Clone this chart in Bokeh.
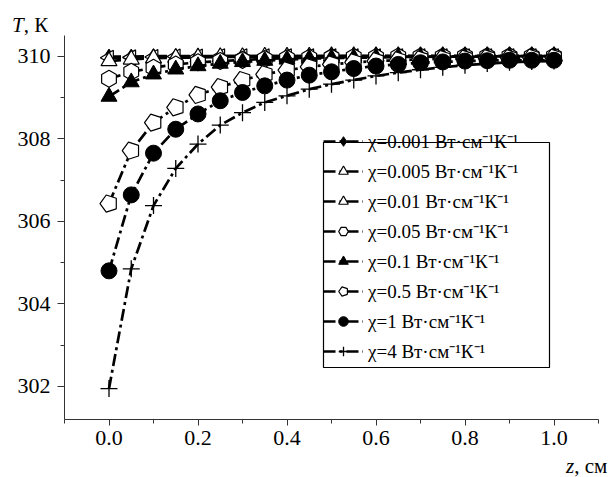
import math
from bokeh.plotting import figure
from bokeh.layouts import column
from bokeh.models import Range1d, FixedTicker, NumeralTickFormatter, Div, BoxAnnotation
from bokeh.core.properties import value
from bokeh.embed import file_html
from bokeh.resources import INLINE

# ---- data ----
z = [0.0, 0.05, 0.1, 0.15, 0.2, 0.25, 0.3, 0.35, 0.4, 0.45, 0.5,
     0.55, 0.6, 0.65, 0.7, 0.75, 0.8, 0.85, 0.9, 0.95, 1.0]

t_0001 = [309.99, 309.99, 310.0, 310.0, 310.0, 310.0, 310.0, 310.0, 310.0, 310.0, 310.0,
          310.0, 310.0, 310.0, 310.0, 310.0, 310.0, 310.0, 310.0, 310.0, 310.0]
t_0005 = [309.96, 309.97, 309.98, 309.99, 309.99, 310.0, 310.0, 310.0, 310.0, 310.0, 310.0,
          310.0, 310.0, 310.0, 310.0, 310.0, 310.0, 310.0, 310.0, 310.0, 310.0]
t_001 = [309.88, 309.92, 309.95, 309.96, 309.97, 309.98, 309.98, 309.99, 309.99, 309.99, 310.0,
         310.0, 310.0, 310.0, 310.0, 310.0, 310.0, 310.0, 310.0, 310.0, 310.0]
t_005 = [309.45, 309.62, 309.72, 309.8, 309.85, 309.88, 309.91, 309.93, 309.95, 309.96, 309.97,
         309.98, 309.98, 309.99, 309.99, 309.99, 310.0, 310.0, 310.0, 310.0, 310.0]
t_01 = [309.02, 309.37, 309.56, 309.68, 309.76, 309.82, 309.86, 309.89, 309.92, 309.94, 309.95,
        309.96, 309.97, 309.98, 309.98, 309.99, 309.99, 309.99, 310.0, 310.0, 310.0]
t_05 = [306.43, 307.71, 308.39, 308.76, 309.06, 309.25, 309.42, 309.56, 309.66, 309.74, 309.8,
        309.85, 309.88, 309.9, 309.92, 309.93, 309.94, 309.95, 309.95, 309.96, 309.96]
t_1 = [304.8, 306.64, 307.65, 308.23, 308.6, 308.92, 309.12, 309.28, 309.42, 309.54, 309.62,
       309.7, 309.76, 309.8, 309.84, 309.86, 309.88, 309.89, 309.9, 309.9, 309.9]
t_4 = [301.95, 304.85, 306.38, 307.28, 307.87, 308.33, 308.63, 308.88, 309.04, 309.2, 309.32,
       309.42, 309.52, 309.6, 309.67, 309.73, 309.78, 309.82, 309.85, 309.87, 309.88]

labels = ["χ=0.001 Вт·см⁻¹К⁻¹", "χ=0.005 Вт·см⁻¹К⁻¹", "χ=0.01 Вт·см⁻¹К⁻¹",
          "χ=0.05 Вт·см⁻¹К⁻¹", "χ=0.1 Вт·см⁻¹К⁻¹", "χ=0.5 Вт·см⁻¹К⁻¹",
          "χ=1 Вт·см⁻¹К⁻¹", "χ=4 Вт·см⁻¹К⁻¹"]

x_major = [0.0, 0.2, 0.4, 0.6, 0.8, 1.0]
x_minor = [-0.1, 0.1, 0.3, 0.5, 0.7, 0.9, 1.1]
y_major = [302, 304, 306, 308, 310]
y_minor = [303, 305, 307, 309]

SERIF = "'Liberation Serif', 'Times New Roman', serif"

p = figure(width=616, height=420, output_backend="svg", toolbar_location=None,
           x_range=Range1d(-0.1, 1.1), y_range=Range1d(301.2, 310.5),
           min_border_left=64, min_border_right=18, min_border_top=0,
           min_border_bottom=36)
p.xgrid.visible = False
p.ygrid.visible = False
p.outline_line_color = None
p.background_fill_color = "white"
p.border_fill_color = "white"

p.xaxis.ticker = FixedTicker(ticks=x_major, minor_ticks=x_minor)
p.yaxis.ticker = FixedTicker(ticks=y_major, minor_ticks=y_minor)
p.xaxis.formatter = NumeralTickFormatter(format="0.0")
for ax in (p.xaxis[0], p.yaxis[0]):
    ax.axis_line_color = "#333333"
    ax.major_tick_line_color = "#333333"
    ax.minor_tick_line_color = "#333333"
    ax.major_tick_in = 0
    ax.minor_tick_in = 0
    ax.minor_tick_out = 4
    ax.major_label_text_font = SERIF
    ax.major_label_text_font_size = "22px"
    ax.major_label_text_color = "black"
p.xaxis.major_tick_out = 6
p.yaxis.major_tick_out = 7
p.xaxis.major_label_standoff = 5
p.yaxis.major_label_standoff = 7

DASH = "12 4 3 4"
LW = 2.7

def series(y, label, **mk):
    p.line(z, y, line_color="black", line_width=LW, line_dash=DASH, legend_label=label)
    p.scatter(z, y, legend_label=label, line_color="black", **mk)

series(t_0001, labels[0], marker="diamond", size=15, fill_color="black")
series(t_0005, labels[1], marker="triangle", size=15, angle=math.pi / 2, fill_color="white", line_width=1.2)
series(t_001, labels[2], marker="triangle", size=16, fill_color="white", line_width=1.2)
series(t_005, labels[3], marker="hex", size=17, angle=math.pi / 2, fill_color="white", line_width=1.2)
series(t_01, labels[4], marker="triangle", size=16, fill_color="black")

# pentagons
p.line(z, t_05, line_color="black", line_width=LW, line_dash=DASH, legend_label=labels[5])
try:
    p.ngon(x=z, y=t_05, radius=9, radius_units="screen", n=5, angle=math.pi / 2,
           fill_color="white", line_color="black", line_width=1.2, legend_label=labels[5])
except Exception:
    p.text(x=z, y=t_05, text=["⬠"] * len(z), text_align="center", text_baseline="middle",
           text_font=value("DejaVu Sans"), text_font_size="20px", legend_label=labels[5])

series(t_1, labels[6], marker="circle", size=16, fill_color="black")
series(t_4, labels[7], marker="cross", size=17, fill_color=None, line_width=1.3)

leg = p.legend[0]
leg.location = (259, 55)
leg.border_line_color = None
leg.background_fill_alpha = 0.0
leg.padding = 2
leg.margin = 0
leg.spacing = 4
leg.label_height = 24
leg.glyph_height = 24
leg.glyph_width = 40
leg.label_standoff = 5
leg.label_text_font = SERIF
leg.label_text_font_size = "19px"
leg.label_text_color = "black"

# legend frame
p.add_layout(BoxAnnotation(left=259, right=485, bottom=52, top=277,
                           left_units="screen", right_units="screen",
                           bottom_units="screen", top_units="screen",
                           fill_color="white", fill_alpha=1.0,
                           line_color="black", line_alpha=1.0,
                           line_width=1.2, line_dash="solid", level="underlay"))

TXT = "font-family:'Liberation Serif','Times New Roman',serif;font-size:21px;line-height:22px;white-space:nowrap;color:black;"
top_div = Div(text=('<div style="position:relative;width:616px;height:35px;">'
                    '<span style="position:absolute;left:12px;top:14px;' + TXT + '">'
                    '<i>T</i>, К</span></div>'),
              width=616, height=35, margin=0)
bot_div = Div(text=('<div style="position:relative;width:616px;height:22px;">'
                    '<span style="position:absolute;left:566px;top:0px;' + TXT + '">'
                    '<i>z</i>, см</span></div>'),
              width=616, height=22, margin=0)

layout = column(top_div, p, bot_div, spacing=0)
open("out.html", "w").write(file_html(layout, INLINE))
